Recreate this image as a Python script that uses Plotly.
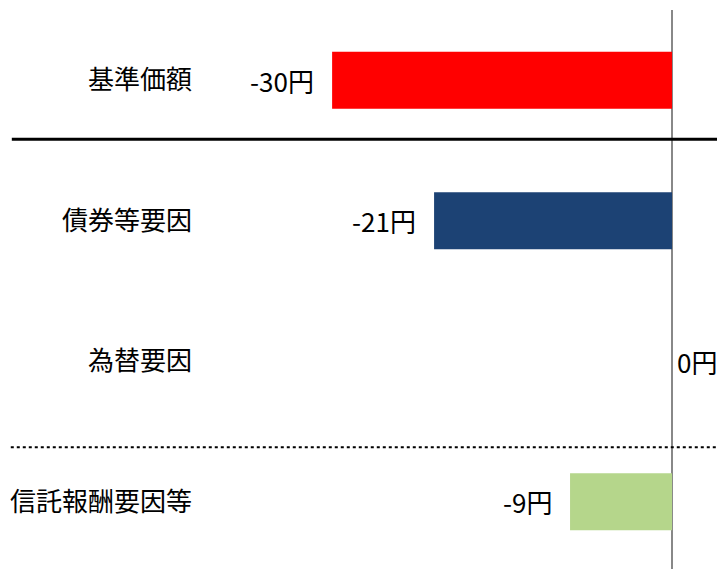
import plotly.graph_objects as go

categories = ["基準価額", "債券等要因", "為替要因", "信託報酬要因等"]
values = [-30, -21, 0, -9]
value_labels = ["-30円", "-21円", "0円", "-9円"]
colors = ["#FF0000", "#1C4274", "#B5D68B", "#B5D68B"]

FONT = "Noto Sans CJK JP"

fig = go.Figure()
fig.add_trace(go.Bar(
    x=values, y=categories, orientation="h",
    marker=dict(color=colors, line=dict(width=0)),
    width=0.405, hoverinfo="skip",
))

for v, c, t in zip(values, categories, value_labels):
    if v < 0:
        fig.add_annotation(x=v, y=c, text=t, showarrow=False,
                           xanchor="right", xshift=-16,
                           font=dict(family=FONT, size=26, color="#000000"))
    else:
        fig.add_annotation(x=v, y=c, text=t, showarrow=False,
                           xanchor="left", xshift=3,
                           font=dict(family=FONT, size=26, color="#000000"))

# separator lines
fig.add_shape(type="line", xref="paper", yref="paper",
              x0=-0.364, x1=1, y0=0.769, y1=0.769,
              line=dict(color="#000000", width=3))
fig.add_shape(type="line", xref="paper", yref="paper",
              x0=-0.366, x1=1, y0=0.218, y1=0.218,
              line=dict(color="#000000", width=2, dash="dot"))

fig.update_layout(
    width=717, height=569,
    margin=dict(l=200, r=0, t=10, b=0),
    paper_bgcolor="white", plot_bgcolor="white",
    showlegend=False,
    font=dict(family=FONT, size=26, color="#000000"),
    xaxis=dict(range=[-41.66, 3.97], showgrid=False, showticklabels=False,
               zeroline=True, zerolinecolor="#888888", zerolinewidth=2,
               fixedrange=True),
    yaxis=dict(range=[3.479, -0.5], showgrid=False, zeroline=False,
               ticks="", ticklabelstandoff=7,
               tickfont=dict(family=FONT, size=26, color="#000000")),
)

fig.write_html("out.html")
